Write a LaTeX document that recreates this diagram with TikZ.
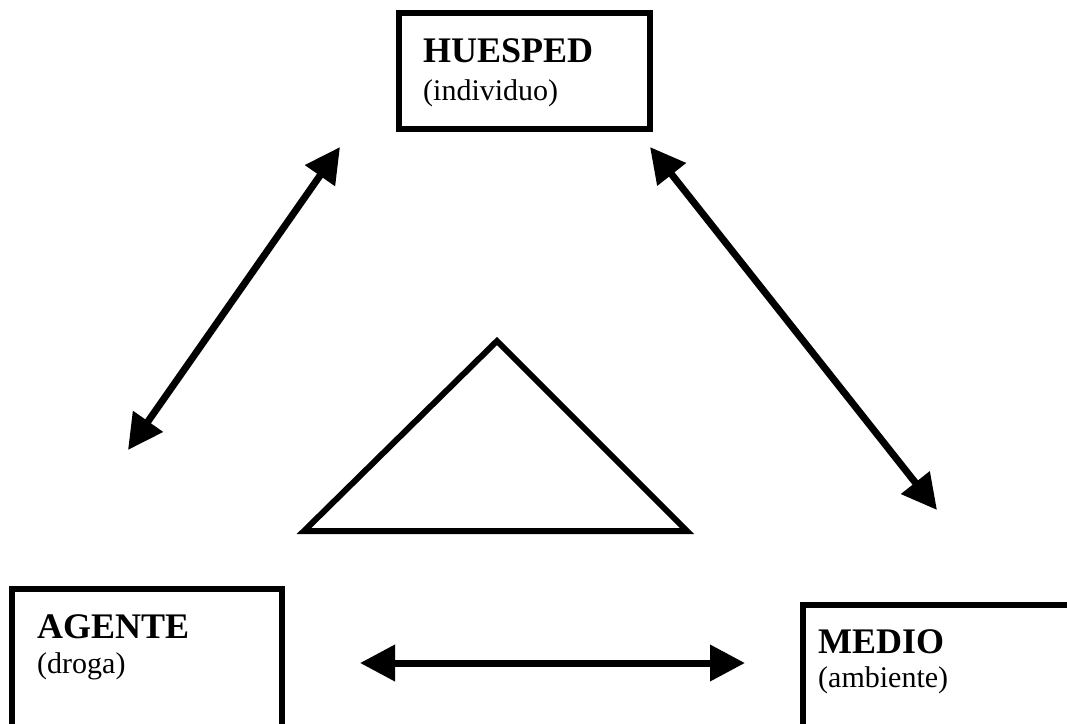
\documentclass[tikz,border=0pt]{standalone}
\usepackage{fontspec}
\setmainfont{Liberation Serif}
\usetikzlibrary{arrows.meta}
\begin{document}
\begin{tikzpicture}[x=1pt,y=-1pt,
  box/.style={draw=black, line width=6pt, rectangle, inner sep=0pt, outer sep=0pt, fill=white},
  title/.style={anchor=base west, inner sep=0pt, font=\fontsize{36}{40}\selectfont\bfseries},
  sub/.style={anchor=base west, inner sep=0pt, font=\fontsize{30}{34}\selectfont},
  dbl/.style={line width=7pt, {Triangle[length=35pt,width=35pt]}-{Triangle[length=35pt,width=35pt]}, shorten <=0pt, shorten >=0pt}]
\fill[white] (0,0) rectangle (1067,723);
\useasboundingbox (0,0) rectangle (1067,723);
% boxes
\node[box, minimum width=251pt, minimum height=116pt] (hue) at (524.5,71) {};
\node[box, minimum width=270pt, minimum height=180pt] (age) at (147,679) {};
\node[box, minimum width=290pt, minimum height=170pt] (med) at (948,690) {};
% texts
\node[title] (hueT) at (423,62) {HUESPED};
\node[sub] (hueS) at (423,100) {(individuo)};
\node[title] (ageT) at (37,638) {AGENTE};
\node[sub] (ageS) at (37,673) {(droga)};
\node[title] (medT) at (818,653) {MEDIO};
\node[sub] (medS) at (818,687) {(ambiente)};
% arrow ends
\coordinate (l1) at (340,147);
\coordinate (l2) at (128,450);
\coordinate (r1) at (650,147);
\coordinate (r2) at (937,510);
\coordinate (b1) at (360,663);
\coordinate (b2) at (745,663);
\draw[dbl] (l2) -- (l1);
\draw[dbl] (r1) -- (r2);
\draw[dbl] (b1) -- (b2);
% triangle
\coordinate (t1) at (497,341);
\coordinate (t2) at (304,531);
\coordinate (t3) at (687,531);
\draw[line width=6pt, line join=miter] (t1) -- (t2) -- (t3) -- cycle;
\end{tikzpicture}
\end{document}
